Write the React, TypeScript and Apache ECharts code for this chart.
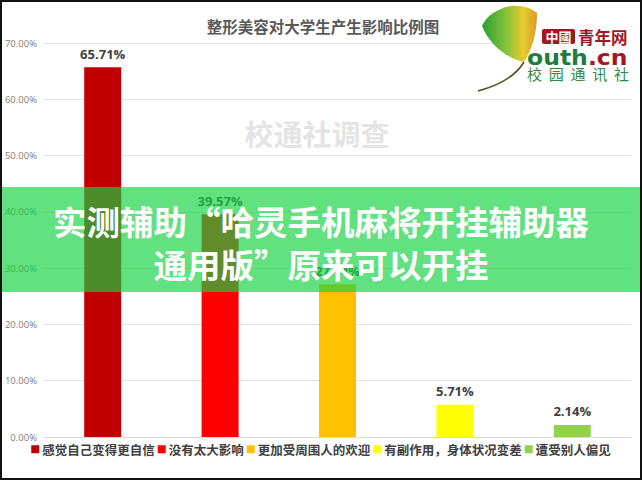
import React, { useEffect, useRef } from "react";
import * as echarts from "echarts";

const categories = ["感觉自己变得更自信", "没有太大影响", "更加受周围人的欢迎", "有副作用，身体状况变差", "遭受别人偏见"];
const values = [65.71, 39.57, 27.14, 5.71, 2.14];
const barColors = ["#C00000", "#FF0000", "#FFC000", "#FFFF00", "#92D050"];
const yTicks = { min: 0, max: 70, interval: 10 };
const title = "整形美容对大学生产生影响比例图";
const watermark = "校通社调查";
const bannerLines = ["实测辅助“哈灵手机麻将开挂辅助器", "通用版”原来可以开挂"];

const CJK = '"Noto Sans CJK SC", "Noto Sans", sans-serif';

export default function App() {
  const ref = useRef<HTMLDivElement>(null);
  useEffect(() => {
    document.body.style.margin = "0";
    const chart = echarts.init(ref.current!, null, { renderer: "svg" });
    echarts.graphic.registerShape(
      "leaf",
      echarts.graphic.extendPath("M482 26 C486 16 498 8 511 6 C522 5 531 8 537 13 C537 31 533 48 524 62 C506 58 489 44 482 26 Z", {})
    );
    const series = categories.map((name, i) => ({
      name,
      type: "bar",
      stack: "all",
      barWidth: 37,
      data: values.map((v, j) => (j === i ? v : "-")),
      itemStyle: { color: barColors[i] },
      label: {
        show: true,
        position: "top",
        distance: 7,
        formatter: (p: any) => p.value.toFixed(2) + "%",
        fontSize: 13,
        fontWeight: "bold",
        color: "#404040",
        fontFamily: '"Open Sans", sans-serif',
      },
    }));
    chart.setOption({
      animation: false,
      backgroundColor: "#ffffff",
      title: {
        text: title,
        left: 318,
        textAlign: "center",
        top: 13,
        textStyle: { fontSize: 15.5, fontWeight: "bold", color: "#595959", fontFamily: CJK },
      },
      grid: { left: 44, right: 11, top: 43, bottom: 43, containLabel: false },
      legend: {
        data: categories,
        top: 443,
        left: "center",
        padding: 0,
        icon: "rect",
        itemWidth: 8,
        itemHeight: 8,
        itemGap: 3,
        textStyle: { fontSize: 12.5, fontWeight: "bold", color: "#404040", fontFamily: CJK, padding: [0, 0, 0, -2] },
      },
      xAxis: {
        type: "category",
        data: categories,
        axisLabel: { show: false },
        axisTick: { show: false },
        axisLine: { lineStyle: { color: "#d9d9d9" } },
      },
      yAxis: {
        type: "value",
        min: yTicks.min,
        max: yTicks.max,
        interval: yTicks.interval,
        axisLabel: {
          formatter: (v: number) => v.toFixed(2) + "%",
          fontSize: 9.5,
          color: "#808080",
          margin: 7,
          fontFamily: '"Open Sans", sans-serif',
        },
        splitLine: { lineStyle: { color: "#e3e3e3" } },
        axisLine: { show: false },
        axisTick: { show: false },
      },
      series,
      graphic: [
        {
          type: "text",
          z: 1,
          x: 317,
          y: 133,
          style: {
            text: watermark,
            fontSize: 29,
            fontWeight: "bold",
            fill: "#e4e4e4",
            fontFamily: CJK,
            textAlign: "center",
            textVerticalAlign: "middle",
          },
        },
        { type: "rect", z: 50, shape: { x: 526, y: 26, width: 114, height: 58 }, style: { fill: "#ffffff" } },
        {
          type: "leaf",
          z: 51,
          style: {
            fill: {
              type: "linear",
              x: 0,
              y: 0,
              x2: 1,
              y2: 0,
              colorStops: [
                { offset: 0, color: "#2a9e34" },
                { offset: 0.45, color: "#86c43a" },
                { offset: 0.75, color: "#e6cc2c" },
                { offset: 1, color: "#d99a28" },
              ],
            },
          },
        },
        {
          type: "bezierCurve",
          z: 51,
          shape: { x1: 524, y1: 62, cpx1: 512, cpy1: 82, x2: 478, y2: 91 },
          style: { stroke: "#5a4a1e", lineWidth: 1.6, fill: "none" },
        },
        { type: "rect", z: 52, shape: { x: 542, y: 29, width: 33, height: 15, r: 2 }, style: { fill: "#a3161f" } },
        {
          type: "text",
          z: 53,
          x: 558.5,
          y: 36.5,
          style: { text: "中國", fontSize: 13, fontWeight: "bold", fill: "#ffffff", fontFamily: CJK, textAlign: "center", textVerticalAlign: "middle" },
        },
        {
          type: "text",
          z: 53,
          x: 578,
          y: 36.5,
          style: { text: "青年网", fontSize: 16.5, fontWeight: "bold", fill: "#a3161f", fontFamily: CJK, textAlign: "left", textVerticalAlign: "middle" },
        },
        {
          type: "text",
          z: 53,
          x: 527,
          y: 57,
          scaleX: 1.12,
          style: {
            text: "{g|outh}{r|.cn}",
            textVerticalAlign: "middle",
            textAlign: "left",
            rich: {
              g: { fontSize: 21, fontWeight: "bold", fill: "#1d7d3c", fontFamily: '"DejaVu Sans", sans-serif' },
              r: { fontSize: 21, fontWeight: "bold", fill: "#a3161f", fontFamily: '"DejaVu Sans", sans-serif' },
            },
          },
        },
        {
          type: "text",
          z: 53,
          x: 527,
          y: 73,
          style: { text: "校  园  通  讯  社", fontSize: 15, fill: "#2e8b3e", fontFamily: CJK, textAlign: "left", textVerticalAlign: "middle" },
        },
        { type: "rect", z: 100, shape: { x: 0, y: 187, width: 642, height: 105 }, style: { fill: "rgba(18,210,63,0.667)" } },
        {
          type: "text",
          z: 101,
          x: 321,
          y: 220,
          style: { text: bannerLines[0], fontSize: 33.5, fontWeight: "bold", fill: "#ffffff", fontFamily: CJK, textAlign: "center", textVerticalAlign: "middle" },
        },
        {
          type: "text",
          z: 101,
          x: 321,
          y: 263,
          style: { text: bannerLines[1], fontSize: 33.5, fontWeight: "bold", fill: "#ffffff", fontFamily: CJK, textAlign: "center", textVerticalAlign: "middle" },
        },
        { type: "rect", z: 110, shape: { x: 1, y: 1, width: 640, height: 478 }, style: { fill: "none", stroke: "#111111", lineWidth: 2 } },
      ],
    });
    return () => chart.dispose();
  }, []);
  return <div ref={ref} style={{ width: 642, height: 480 }} />;
}
